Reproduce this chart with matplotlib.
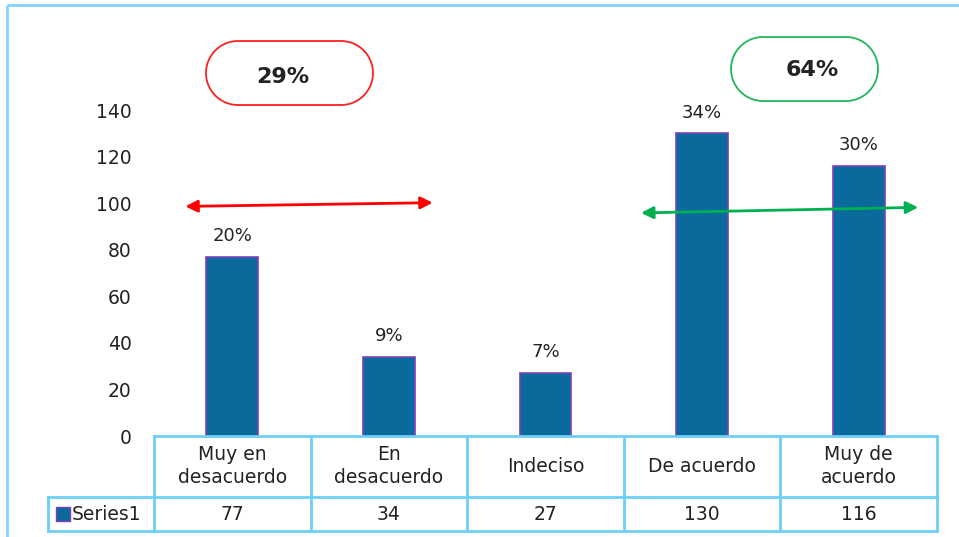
import numpy as np
import matplotlib.pyplot as plt
from matplotlib.patches import Polygon, Rectangle
from matplotlib.lines import Line2D
from matplotlib.transforms import Affine2D

categories = ["Muy en\ndesacuerdo", "En\ndesacuerdo", "Indeciso", "De acuerdo", "Muy de\nacuerdo"]
values = [77, 34, 27, 130, 116]
pct_labels = ["20%", "9%", "7%", "34%", "30%"]
yticks = [0, 20, 40, 60, 80, 100, 120, 140]
series_name = "Series1"
group_labels = ["29%", "64%"]

W, H = 959, 537
BAR = "#0b6a9c"
EDGE = "#7e3fbf"
GRID = "#6dcff6"
TXT = "#222222"
plt.rcParams["font.family"] = ["DejaVu Sans"]


def fx(x):
    return x / W


def fy(y):
    return 1 - y / H


def stadium(x0, y0, x1, y1, n=40):
    # rounded-end box outline in pixel coords
    r = (y1 - y0) / 2
    cy = (y0 + y1) / 2
    t = np.linspace(-np.pi / 2, np.pi / 2, n)
    right = np.column_stack([x1 - r + r * np.cos(t), cy + r * np.sin(t)])
    left = np.column_stack([x0 + r - r * np.cos(t), cy - r * np.sin(t)])
    return np.vstack([right, left])


fig = plt.figure(figsize=(W / 100, H / 100), dpi=100)
# pixel transform with origin at top-left (figure is saved at dpi 100)
pix = Affine2D().scale(1, -1).translate(0, H)

ax = fig.add_axes([fx(154), fy(436), fx(937) - fx(154), fy(110) - fy(436)])

x = list(range(len(values)))
ax.bar(x, values, width=0.33, color=BAR, edgecolor=EDGE, linewidth=1.2, zorder=2)
for xi, v, lab in zip(x, values, pct_labels):
    ax.text(xi, v + 5, lab, ha="center", va="bottom", fontsize=13, color=TXT)

ax.set_xlim(-0.5, len(values) - 0.5)
ax.set_ylim(0, 140)
ax.set_yticks(yticks)
ax.tick_params(axis="y", length=0, pad=16, labelsize=13.5, labelcolor=TXT)
ax.set_xticks([])
for s in ax.spines.values():
    s.set_visible(False)

# outer chart border
fig.add_artist(Rectangle((7, 5), 1000, 600, transform=pix, fill=False,
                         edgecolor="#80d4ff", lw=2))

# data table
tl = dict(color=GRID, lw=2, transform=pix)
col_edges = [154 + i * (937 - 154) / 5 for i in range(6)]
for cx in col_edges:
    fig.add_artist(Line2D([cx, cx], [436, 531], **tl))
fig.add_artist(Line2D([48, 48], [497, 531], **tl))
fig.add_artist(Line2D([154, 937], [436, 436], **tl))
for ry in (497, 531):
    fig.add_artist(Line2D([48, 937], [ry, ry], **tl))

for i, (cat, v) in enumerate(zip(categories, values)):
    cx = (col_edges[i] + col_edges[i + 1]) / 2
    fig.text(cx, 466, cat, ha="center", va="center", fontsize=13.5,
             color=TXT, linespacing=1.25, transform=pix)
    fig.text(cx, 515, str(v), ha="center", va="center", fontsize=13.5, color=TXT,
             transform=pix)

fig.add_artist(Rectangle((56, 507), 14, 14, transform=pix, facecolor=BAR,
                         edgecolor=EDGE, lw=1))
fig.text(72, 515, series_name, ha="left", va="center", fontsize=13.5, color=TXT,
         transform=pix)

# group boxes
boxes = [((206, 41, 373, 105), "#ff2020", group_labels[0], (283, 77)),
         ((731, 37, 878, 101), "#22b55a", group_labels[1], (812, 70))]
for (x0, y0, x1, y1), col, lab, (tx, ty) in boxes:
    fig.add_artist(Polygon(stadium(x0, y0, x1, y1), closed=True, transform=pix,
                           fill=False, edgecolor=col, lw=1.3))
    fig.text(tx, ty, lab, ha="center", va="center", fontsize=16,
             fontweight="bold", color=TXT, transform=pix)

# double arrows in data coordinates
ax.annotate("", xy=(1.28, 100.2), xytext=(-0.30, 98.6),
            arrowprops=dict(arrowstyle="<|-|>", color="#ff0000", lw=2,
                            mutation_scale=18, shrinkA=0, shrinkB=0),
            annotation_clip=False)
ax.annotate("", xy=(4.38, 98.2), xytext=(2.61, 95.8),
            arrowprops=dict(arrowstyle="<|-|>", color="#00b050", lw=2,
                            mutation_scale=18, shrinkA=0, shrinkB=0),
            annotation_clip=False, zorder=3)

fig.savefig("out.png", dpi=100)
